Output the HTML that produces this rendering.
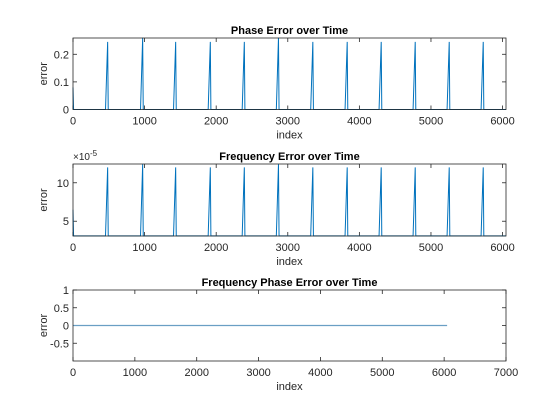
<!DOCTYPE html>
<html><head><meta charset="utf-8"><style>
body{margin:0;background:#fff}
svg{display:block;font-family:"Liberation Sans",sans-serif}
</style></head><body>
<svg id="fig" width="560" height="420" xmlns="http://www.w3.org/2000/svg"></svg>
<script>
const peakIdx = [484, 973, 1434, 1918, 2393, 2870, 3350, 3830, 4305, 4780, 5255, 5730];
const phasePeaks = [0.245, 0.26, 0.245, 0.245, 0.245, 0.26, 0.245, 0.245, 0.245, 0.245, 0.245, 0.245];
const freqPeaks = [12.0, 12.4, 12.0, 12.0, 12.0, 12.4, 12.0, 12.0, 12.0, 12.0, 12.0, 12.0];
const phaseStart = 0.08, phaseBase = 0;
const freqStart = 6.5, freqBase = 3.1;
const fpeLen = 6048, fpeValue = 0;
const xTicks1 = [0,1000,2000,3000,4000,5000,6000];
const xTicks3 = [0,1000,2000,3000,4000,5000,6000,7000];
const yTicks1 = [0,0.1,0.2];
const yTicks2 = [5,10];
const yTicks3 = [-0.5,0,0.5,1];
const titles = ["Phase Error over Time","Frequency Error over Time","Frequency Phase Error over Time"];

const svg=document.getElementById('fig');
const NS='http://www.w3.org/2000/svg';
function el(t,a,p){const e=document.createElementNS(NS,t);for(const k in a)e.setAttribute(k,a[k]);(p||svg).appendChild(e);return e;}

function axes(i,top,bot,xmax,ymin,ymax,xt,yt,name){
  const L=73,R=506;
  const sx=v=>L+(v/xmax)*(R-L), sy=v=>bot-(v-ymin)/(ymax-ymin)*(bot-top);
  const g=el('g',{});
  
  
  const r=el('rect',{x:L,y:top,width:R-L,height:bot-top,fill:'#fff',stroke:'none'},g);
  
  xt.forEach(v=>{const x=sx(v);
    el('line',{x1:x,x2:x,y1:bot,y2:bot-4,stroke:'#262626','stroke-width':0.8},g);
    el('line',{x1:x,x2:x,y1:top,y2:top+4,stroke:'#262626','stroke-width':0.8},g);
    const t=el('text',{x:x,y:bot+15,'text-anchor':'middle','font-size':11,fill:'#262626'},g);t.textContent=v;
    });
  yt.forEach(v=>{const y=sy(v);
    el('line',{x1:L,x2:L+4,y1:y,y2:y,stroke:'#262626','stroke-width':0.8},g);
    el('line',{x1:R,x2:R-4,y1:y,y2:y,stroke:'#262626','stroke-width':0.8},g);
    const t=el('text',{x:L-4,y:y+4,'text-anchor':'end','font-size':11,fill:'#262626'},g);t.textContent=v;
    });
  const tt=el('text',{x:(L+R)/2,y:top-4,'text-anchor':'middle','font-size':11,'font-weight':'bold',fill:'#000'},g);tt.textContent=titles[i];
  
  const xl=el('text',{x:(L+R)/2,y:bot+29,'text-anchor':'middle','font-size':11,fill:'#262626'},g);xl.textContent='index';
  
  const yl=el('text',{x:0,y:0,transform:`translate(${L-26},${(top+bot)/2}) rotate(-90)`,'text-anchor':'middle','font-size':11,fill:'#262626'},g);yl.textContent='error';
  
  return {g,sx,sy,L,R,top,bot};
}
function frame(a){const f=el('rect',{x:a.L,y:a.top,width:a.R-a.L,height:a.bot-a.top,fill:'none',stroke:'#262626','stroke-width':0.8},a.g);
  }
function spikes(a,start,base,peaks,name){
  let d=`M${a.sx(0)},${a.sy(start)} L${a.sx(8)},${a.sy(base)}`;
  peakIdx.forEach((p,k)=>{d+=` L${a.sx(p-30)},${a.sy(base)} L${a.sx(p)},${a.sy(peaks[k])} L${a.sx(p+8)},${a.sy(base)}`;});
  d+=` L${a.sx(6048)},${a.sy(base)}`;
  const pth=el('path',{d,fill:'none',stroke:'#0072BD','stroke-width':1},a.g);
  
}
const a1=axes(0,38,109.5,6048,0,0.259,xTicks1,yTicks1,'phase-error-chart');
spikes(a1,phaseStart,phaseBase,phasePeaks,'phase-error-line');frame(a1);
const a2=axes(1,164,236,6048,3.08,12.44,xTicks1,yTicks2,'frequency-error-chart');
spikes(a2,freqStart,freqBase,freqPeaks,'frequency-error-line');frame(a2);
const ex=el('text',{x:73,y:160,'font-size':10,fill:'#262626'},a2.g);ex.innerHTML='×10<tspan dy="-4" font-size="8">-5</tspan>';

const a3=axes(2,290,361,7000,-1,1,xTicks3,yTicks3,'frequency-phase-error-chart');
const l3=el('line',{x1:a3.sx(0),x2:a3.sx(fpeLen),y1:a3.sy(fpeValue),y2:a3.sy(fpeValue),stroke:'#6A9FC4','stroke-width':1.3},a3.g);

frame(a3);
</script>
</body></html>
